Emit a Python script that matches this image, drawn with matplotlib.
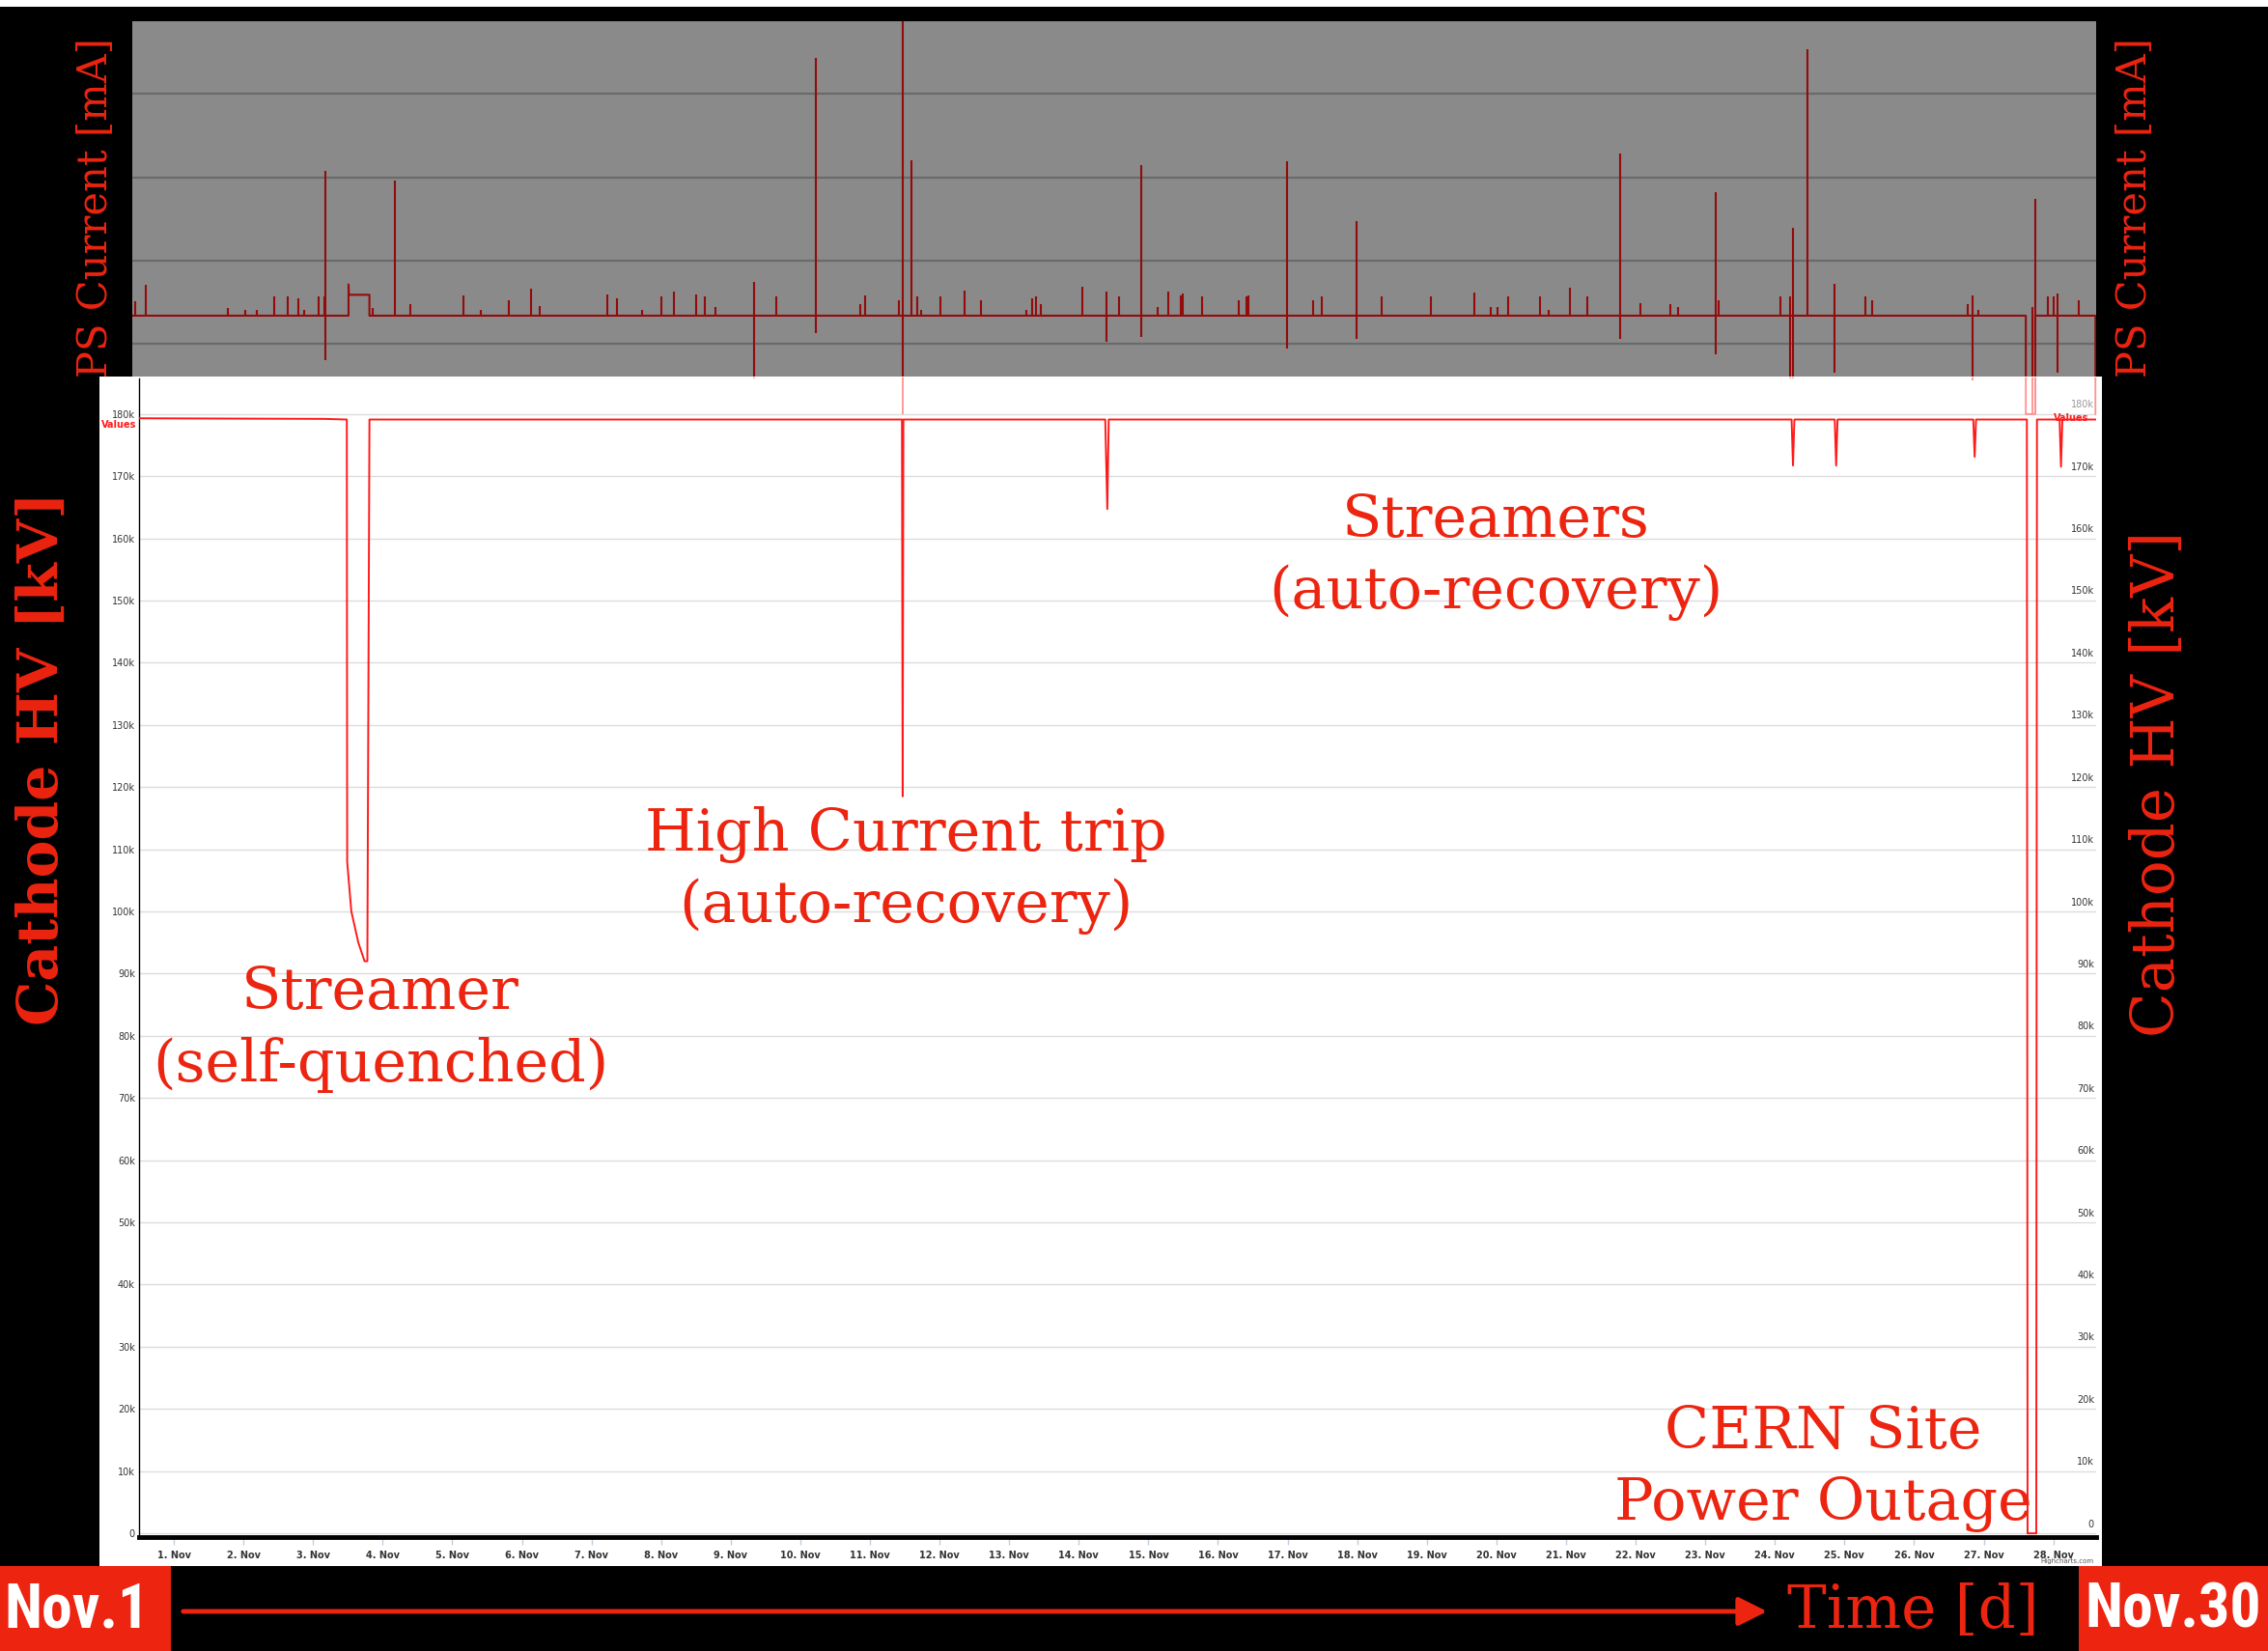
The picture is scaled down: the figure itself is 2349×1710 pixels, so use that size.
import matplotlib
matplotlib.use("Agg")
import matplotlib.pyplot as plt
import matplotlib.transforms as mtransforms
from matplotlib.patches import Rectangle, FancyArrowPatch

W, H = 2349, 1710

# cathode HV readback, day of November vs volts
hv_days = [0.50, 3.17, 3.485, 3.49, 3.55, 3.65, 3.74, 3.78, 3.81,
           11.46, 11.47, 11.48, 14.38, 14.41, 14.43,
           24.24, 24.26, 24.28, 24.86, 24.88, 24.90, 26.85, 26.87, 26.89,
           27.62, 27.63, 27.755, 27.765, 28.09, 28.11, 28.13, 28.615]
hv_volts = [179300, 179200, 179100, 108000, 100000, 95000, 92000, 92000, 179100,
            179100, 118500, 179100, 179100, 164700, 179100,
            179100, 171700, 179100, 179100, 171700, 179100, 179100, 173100, 179100,
            179100, 0, 0, 179100, 179100, 171500, 179100, 179100]

# PS current: baseline with the ramp step and the outage
base_days = [0.404, 3.51, 3.51, 3.515, 3.81, 3.81, 27.60, 27.60, 27.735, 27.735, 28.60, 28.60]
base_vals = [0.34, 0.34, 0.715, 0.59, 0.59, 0.34, 0.34, -0.84, -0.84, 0.34, 0.34, -0.84]

# PS current spikes: day, peak and floor [mA]
spike_days = [0.44, 0.60, 1.78, 2.03, 2.19, 2.44, 2.64, 2.79, 2.87, 3.08, 3.16, 3.18,
              3.86, 4.17, 4.40, 5.16, 5.41, 5.81, 6.13, 6.26, 7.23, 7.37, 7.72, 8.00,
              8.19, 8.50, 8.63, 8.78, 9.33, 9.66, 10.22, 10.86, 10.93, 11.41, 11.47, 11.60,
              11.68, 11.73, 12.01, 12.36, 12.60, 13.24, 13.33, 13.38, 13.46, 14.05, 14.40, 14.58,
              14.89, 15.13, 15.29, 15.46, 15.49, 15.77, 16.30, 16.40, 16.44, 16.99, 17.36, 17.49,
              17.99, 18.35, 19.06, 19.68, 19.92, 20.01, 20.16, 20.62, 20.75, 21.05, 21.30, 21.77,
              22.06, 22.50, 22.61, 23.14, 23.19, 24.07, 24.21, 24.25, 24.47, 24.85, 25.29, 25.39,
              26.77, 26.84, 26.92, 27.70, 27.74, 27.91, 28.00, 28.06, 28.36]
spike_tops = [0.51, 0.71, 0.43, 0.41, 0.41, 0.57, 0.57, 0.55, 0.41, 0.57, 0.57, 2.07,
              0.43, 1.96, 0.48, 0.58, 0.41, 0.53, 0.66, 0.45, 0.59, 0.55, 0.41, 0.57,
              0.63, 0.59, 0.57, 0.44, 0.74, 0.57, 3.43, 0.48, 0.58, 0.53, 4.50, 2.20,
              0.57, 0.41, 0.57, 0.64, 0.53, 0.41, 0.55, 0.57, 0.48, 0.69, 0.63, 0.57,
              2.14, 0.44, 0.63, 0.58, 0.60, 0.57, 0.53, 0.57, 0.58, 2.19, 0.53, 0.57,
              1.47, 0.57, 0.57, 0.62, 0.44, 0.44, 0.57, 0.57, 0.41, 0.68, 0.57, 2.28,
              0.49, 0.48, 0.44, 1.82, 0.53, 0.57, 0.57, 1.39, 3.53, 0.72, 0.57, 0.53,
              0.48, 0.58, 0.41, 0.44, 1.74, 0.57, 0.57, 0.61, 0.53]
spike_bottoms = [0.34, 0.34, 0.34, 0.34, 0.34, 0.34, 0.34, 0.34, 0.34, 0.34, 0.34, -0.19,
                 0.34, 0.34, 0.34, 0.34, 0.34, 0.34, 0.34, 0.34, 0.34, 0.34, 0.34, 0.34,
                 0.34, 0.34, 0.34, 0.34, -0.41, 0.34, 0.13, 0.34, 0.34, 0.34, -0.84, 0.34,
                 0.34, 0.34, 0.34, 0.34, 0.34, 0.34, 0.34, 0.34, 0.34, 0.34, 0.03, 0.34,
                 0.08, 0.34, 0.34, 0.34, 0.34, 0.34, 0.34, 0.34, 0.34, -0.05, 0.34, 0.34,
                 0.06, 0.34, 0.34, 0.34, 0.34, 0.34, 0.34, 0.34, 0.34, 0.34, 0.34, 0.06,
                 0.34, 0.34, 0.34, -0.12, 0.34, 0.34, -0.41, -0.41, 0.34, -0.34, 0.34, 0.34,
                 0.34, -0.44, 0.34, -0.84, -0.84, 0.34, 0.34, -0.34, 0.34]

xtick_days = list(range(1, 29))
xtick_labels = [f"{d}. Nov" for d in xtick_days]
hv_ticks = list(range(0, 190000, 10000))
hv_tick_labels = ["0"] + [f"{t // 1000}k" for t in hv_ticks[1:]]
ps_grid = [0, 1, 2, 3]

# annotation text: lines and their centres in pixels
note_lines = ["Streamers", "(auto-recovery)",
              "High Current trip", "(auto-recovery)",
              "Streamer", "(self-quenched)",
              "CERN Site", "Power Outage"]
note_xy = [(1549, 539), (1549, 614),
           (938, 864), (938, 939),
           (394, 1028), (394, 1103),
           (1888, 1483), (1888, 1558)]

RED = "#ec2410"
SERIF = "DejaVu Serif"
NARROW = ["Liberation Sans Narrow", "Roboto Condensed", "DejaVu Sans Condensed",
          "Liberation Sans"]


def rect(x0, y0, x1, y1):
    return [x0 / W, 1 - y1 / H, (x1 - x0) / W, (y1 - y0) / H]


def fxy(x, y):
    return x / W, 1 - y / H


fig = plt.figure(figsize=(W / 100, H / 100), dpi=100, facecolor="black")

# white strip on top and the white chart panel
fig.patches.append(Rectangle((0, 1 - 7 / H), 1, 7 / H, transform=fig.transFigure,
                             facecolor="white", edgecolor="none", zorder=-2))
panel = Rectangle(fxy(103, 1622), (2177 - 103) / W, (1622 - 390) / H,
                  transform=fig.transFigure, facecolor="white", edgecolor="none", zorder=-2)
fig.patches.append(panel)

# HV chart
ax = fig.add_axes(rect(144, 392, 2171, 1592), zorder=1)
ax.set_facecolor("white")
ax.plot(hv_days, hv_volts, color="#ff1a1a", lw=1.4, zorder=3)
ax.set_xlim(0.5, 28.615)
ax.set_ylim(-600, 185700)
ax.set_yticks(hv_ticks, hv_tick_labels)
ax.set_xticks(xtick_days, xtick_labels)
ax.grid(axis="y", color="#dcdcdc", lw=1)
ax.tick_params(axis="y", length=0, pad=3, labelsize=7, labelcolor="#333333")
ax.tick_params(axis="x", length=6, width=1, color="#c0d0e0", pad=4,
               labelsize=7, labelcolor="#333333")
for lab in ax.get_xticklabels():
    lab.set_fontweight("bold")
for s in ["top", "right"]:
    ax.spines[s].set_visible(False)
ax.spines["left"].set_linewidth(1)
ax.spines["bottom"].set_linewidth(3.5)
ax.spines["bottom"].set_color("black")

# right-hand tick labels sit inside the plot, above the grid line
for t, lab in zip(hv_ticks, hv_tick_labels):
    ax.text(0.999, t + 700, lab, transform=ax.get_yaxis_transform(), ha="right",
            va="bottom", fontsize=7, color="#999999" if t == 180000 else "#333333")
ax.text(0.996, 179300, "Values", transform=ax.get_yaxis_transform(), ha="right",
        va="center", fontsize=7, fontweight="bold", color="#ff1a1a")
t = fig.text(*fxy(141, 440), "Values", ha="right", va="center", fontsize=7,
             fontweight="bold", color="#ff1a1a", zorder=5)
t.set_clip_path(panel)
fig.text(*fxy(2169, 1617), "Highcharts.com", ha="right", va="center",
         fontsize=5, color="#555555")

# PS current chart on the grey panel
ax2 = fig.add_axes(rect(137, 22, 2171, 390), zorder=5)
ax2.set_facecolor("#8a8a8a")
ax2.set_xlim(0.404, 28.61)
ax2.set_ylim(-0.39, 3.87)
for g in ps_grid:
    ax2.axhline(g, color="#6a6a6a", lw=1.6, zorder=1)
ax2.plot(base_days, base_vals, color="#930b0b", lw=1.5, zorder=3)
ax2.vlines(spike_days, spike_bottoms, spike_tops, color="#930b0b", lw=1.5, zorder=3)
ax2.set_xticks([])
ax2.set_yticks([])
for s in ax2.spines.values():
    s.set_visible(False)

# where the current trace runs past the grey panel it shows faint over the white
white_box = mtransforms.TransformedBbox(
    mtransforms.Bbox([fxy(103, 1622), fxy(2177, 391)]), fig.transFigure)
faint = ax2.plot(base_days, base_vals, color="#ff9090", lw=1.3, zorder=2)[0]
faint_v = ax2.vlines(spike_days, spike_bottoms, spike_tops, color="#ff9090", lw=1.3, zorder=2)
for art in (faint, faint_v):
    art.set_clip_on(True)
    art.set_clip_box(white_box)

# axis titles
fig.text(*fxy(99, 215), "PS Current [mA]", rotation=90, ha="center", va="center",
         fontsize=30, family=SERIF, color=RED)
fig.text(*fxy(2211, 215), "PS Current [mA]", rotation=90, ha="center", va="center",
         fontsize=30, family=SERIF, color=RED)
fig.text(*fxy(44, 786), "Cathode HV [kV]", rotation=90, ha="center", va="center",
         fontsize=42, family=SERIF, fontweight="bold", color=RED)
fig.text(*fxy(2235, 812), "Cathode HV [kV]", rotation=90, ha="center", va="center",
         fontsize=44, family=SERIF, color=RED)

for line, (x, y) in zip(note_lines, note_xy):
    fig.text(*fxy(x, y), line, ha="center", va="center", fontsize=43.5,
             family=SERIF, color=RED, zorder=6)

# time arrow and the date boxes
fig.patches.append(FancyArrowPatch(fxy(187, 1669), fxy(1833, 1669), transform=fig.transFigure,
                                   arrowstyle="-|>", mutation_scale=45, lw=3.5,
                                   color=RED))
fig.text(*fxy(1981, 1669), "Time [d]", ha="center", va="center", fontsize=44,
         family=SERIF, color=RED)
fig.patches.append(Rectangle(fxy(0, 1710), 177 / W, 88 / H, transform=fig.transFigure,
                             facecolor=RED, edgecolor="none"))
fig.patches.append(Rectangle(fxy(2153, 1710), 196 / W, 88 / H, transform=fig.transFigure,
                             facecolor=RED, edgecolor="none"))
fig.text(*fxy(80, 1668), "Nov.1", ha="center", va="center", fontsize=46,
         family=NARROW, fontweight="bold", color="white")
fig.text(*fxy(2251, 1668), "Nov.30", ha="center", va="center", fontsize=46,
         family=NARROW, fontweight="bold", color="white")

fig.savefig("out.png", dpi=100, facecolor="black")
